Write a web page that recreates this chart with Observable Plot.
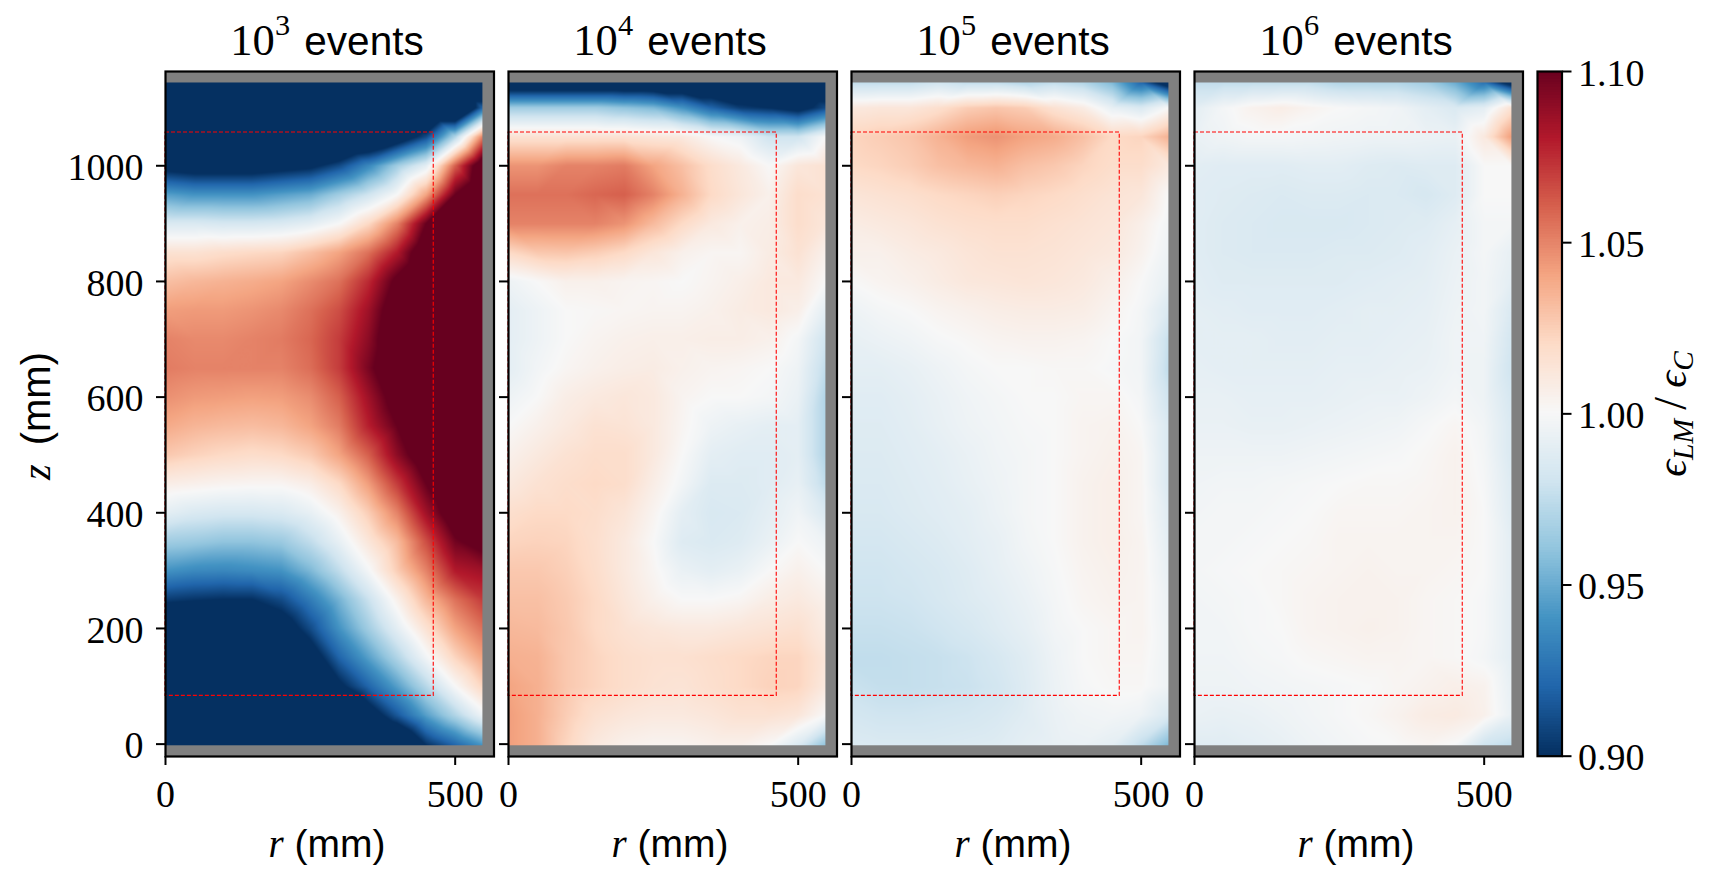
<!DOCTYPE html>
<html>
<head>
<meta charset="utf-8">
<script src="https://cdn.jsdelivr.net/npm/d3@7"></script>
<script src="https://cdn.jsdelivr.net/npm/@observablehq/plot@0.6"></script>
<style>
  body { margin: 0; background: white; }
  #chart { position: relative; width: 1716px; height: 883px; overflow: hidden; color: black; }
  #chart svg { position: absolute; overflow: visible; }
  .txt { position: absolute; white-space: nowrap; font-family: "Liberation Sans"; transform: translate(-50%, 0); line-height: 1; }
  .txt i { font-family: "Liberation Serif"; }
  .txt .num { font-family: "Liberation Serif"; font-size: 1.1em; }
  .txt sup { font-family: "Liberation Serif"; font-size: 0.75em; line-height: 0; vertical-align: 0.66em; margin-right: 0.1em; }
  .txt sub { font-size: 0.7em; line-height: 0; vertical-align: -0.25em; }
</style>
</head>
<body>
<div id="chart"></div>
<script>
// sample positions (mm)
const rValues = [0, 50, 100, 150, 200, 250, 300, 350, 400, 450, 500, 547];
const zValues = [1144, 1100, 1050, 1000, 950, 900, 850, 800, 750, 700, 650, 600, 550, 500, 450, 400, 350, 300, 250, 200, 150, 100, 50, -2];

const exponents = [3, 4, 5, 6];
const rTicks = [0, 500];
const zTicks = [0, 200, 400, 600, 800, 1000];
const barTicks = [0.90, 0.95, 1.00, 1.05, 1.10];
const rdbu = ["#053061", "#2166ac", "#4393c3", "#92c5de", "#d1e5f0", "#f7f7f7", "#fddbc7", "#f4a582", "#d6604d", "#b2182b", "#67001f"];
const rdbuStops = [0.90, 0.92, 0.94, 0.96, 0.98, 1.00, 1.02, 1.04, 1.06, 1.08, 1.10];
const fiducial = [{r1: 0, r2: 463, z1: 83.5, z2: 1057.6}];

// ratio epsilon_LM / epsilon_C, one row per z, one column per r
const events3 = [
  [.84, .84, .84, .84, .84, .84, .84, .84, .84, .84, .84, .84],
  [.84, .84, .84, .84, .84, .84, .84, .84, .84, .84, .84, .92],
  [.84, .84, .84, .84, .84, .84, .85, .86, .88, .91, .97, 1.05],
  [.89, .885, .885, .885, .89, .895, .91, .935, .965, .99, 1.06, 1.12],
  [.945, .94, .94, .94, .945, .95, .965, .98, 1.00, 1.04, 1.10, 1.13],
  [.985, .985, .983, .983, .985, .99, 1.00, 1.02, 1.05, 1.10, 1.13, 1.14],
  [1.015, 1.015, 1.018, 1.02, 1.022, 1.03, 1.04, 1.055, 1.08, 1.12, 1.14, 1.14],
  [1.03, 1.033, 1.035, 1.037, 1.04, 1.047, 1.055, 1.075, 1.105, 1.13, 1.14, 1.14],
  [1.042, 1.043, 1.043, 1.045, 1.048, 1.055, 1.065, 1.085, 1.115, 1.14, 1.14, 1.14],
  [1.05, 1.048, 1.048, 1.05, 1.052, 1.058, 1.07, 1.09, 1.12, 1.14, 1.14, 1.14],
  [1.052, 1.05, 1.05, 1.05, 1.05, 1.056, 1.07, 1.095, 1.12, 1.14, 1.14, 1.14],
  [1.046, 1.043, 1.042, 1.041, 1.042, 1.047, 1.06, 1.085, 1.11, 1.13, 1.14, 1.14],
  [1.038, 1.034, 1.032, 1.031, 1.033, 1.04, 1.052, 1.078, 1.10, 1.125, 1.14, 1.14],
  [1.027, 1.023, 1.02, 1.018, 1.02, 1.026, 1.04, 1.06, 1.09, 1.115, 1.13, 1.13],
  [1.007, 1.005, 1.003, 1.002, 1.002, 1.007, 1.02, 1.042, 1.07, 1.10, 1.125, 1.13],
  [.99, .985, .983, .983, .985, .992, 1.005, 1.025, 1.05, 1.085, 1.115, 1.125],
  [.965, .963, .96, .96, .963, .975, .992, 1.012, 1.032, 1.065, 1.097, 1.108],
  [.94, .936, .935, .937, .94, .955, .975, .998, 1.025, 1.05, 1.08, 1.085],
  [.905, .902, .90, .90, .91, .93, .953, .978, 1.005, 1.033, 1.055, 1.07],
  [.86, .86, .86, .87, .885, .91, .94, .965, .99, 1.015, 1.04, 1.055],
  [.84, .84, .84, .85, .86, .885, .92, .945, .97, .997, 1.022, 1.04],
  [.84, .84, .84, .84, .84, .86, .895, .92, .945, .972, 1.00, 1.022],
  [.84, .84, .84, .84, .84, .84, .85, .885, .915, .945, .97, .995],
  [.84, .84, .84, .84, .84, .84, .84, .84, .86, .90, .92, .94]
];
const events4 = [
  [.87, .87, .87, .87, .87, .87, .87, .87, .87, .87, .87, .87],
  [.965, .965, .965, .965, .96, .955, .94, .92, .905, .90, .89, .91],
  [1.015, 1.015, 1.015, 1.015, 1.015, 1.012, 1.01, 1.00, .995, .98, .98, 1.00],
  [1.045, 1.045, 1.05, 1.05, 1.052, 1.04, 1.03, 1.018, 1.01, 1.00, 1.012, 1.015],
  [1.055, 1.055, 1.055, 1.058, 1.06, 1.05, 1.035, 1.02, 1.012, 1.005, 1.018, 1.015],
  [1.05, 1.05, 1.05, 1.05, 1.045, 1.032, 1.02, 1.01, 1.005, 1.007, 1.018, 1.012],
  [1.02, 1.027, 1.028, 1.025, 1.02, 1.012, 1.005, 1.002, 1.002, 1.008, 1.015, 1.005],
  [.995, 1.00, 1.005, 1.005, 1.003, 1.002, 1.00, 1.003, 1.006, 1.01, 1.01, 1.00],
  [.99, .995, 1.00, 1.001, 1.002, 1.003, 1.003, 1.005, 1.008, 1.01, 1.006, .99],
  [.99, .995, 1.00, 1.003, 1.005, 1.006, 1.006, 1.007, 1.007, 1.005, .998, .98],
  [.99, .997, 1.002, 1.005, 1.007, 1.008, 1.005, 1.003, 1.002, 1.00, .995, .975],
  [.995, 1.00, 1.007, 1.01, 1.012, 1.01, 1.003, 1.00, 1.00, .998, .993, .97],
  [1.00, 1.005, 1.01, 1.015, 1.014, 1.01, 1.002, .995, .992, .99, .99, .97],
  [1.005, 1.01, 1.015, 1.018, 1.018, 1.01, 1.00, .99, .988, .988, .99, .97],
  [1.01, 1.015, 1.018, 1.02, 1.018, 1.007, .997, .986, .986, .988, .992, .975],
  [1.017, 1.02, 1.02, 1.018, 1.013, 1.003, .99, .984, .985, .99, .996, .985],
  [1.022, 1.023, 1.022, 1.017, 1.01, 1.00, .987, .985, .987, .993, 1.00, .995],
  [1.027, 1.027, 1.024, 1.018, 1.01, 1.002, .993, .99, .993, 1.00, 1.005, 1.00],
  [1.03, 1.03, 1.026, 1.02, 1.012, 1.005, 1.00, 1.00, 1.002, 1.007, 1.01, 1.005],
  [1.033, 1.032, 1.027, 1.02, 1.015, 1.012, 1.01, 1.01, 1.012, 1.014, 1.016, 1.008],
  [1.036, 1.035, 1.027, 1.022, 1.018, 1.016, 1.016, 1.018, 1.02, 1.022, 1.022, 1.012],
  [1.04, 1.036, 1.027, 1.022, 1.018, 1.015, 1.014, 1.017, 1.02, 1.023, 1.022, 1.01],
  [1.042, 1.036, 1.025, 1.016, 1.012, 1.01, 1.01, 1.012, 1.015, 1.015, 1.012, 1.00],
  [1.042, 1.036, 1.022, 1.01, 1.005, 1.003, 1.003, 1.005, 1.005, 1.00, .985, .96]
];
const events5 = [
  [.975, .975, .975, .98, .975, .975, .97, .975, .97, .955, .92, .88],
  [1.01, 1.012, 1.012, 1.017, 1.025, 1.028, 1.025, 1.015, 1.008, .992, .985, 1.00],
  [1.022, 1.025, 1.028, 1.035, 1.042, 1.045, 1.04, 1.037, 1.03, 1.02, 1.022, 1.035],
  [1.02, 1.022, 1.025, 1.03, 1.033, 1.035, 1.03, 1.027, 1.022, 1.018, 1.018, 1.01],
  [1.013, 1.015, 1.017, 1.02, 1.022, 1.024, 1.022, 1.02, 1.017, 1.014, 1.012, 1.00],
  [1.008, 1.01, 1.012, 1.015, 1.017, 1.018, 1.018, 1.016, 1.014, 1.012, 1.006, .997],
  [1.005, 1.005, 1.008, 1.01, 1.013, 1.015, 1.015, 1.014, 1.012, 1.01, 1.004, .995],
  [1.00, 1.003, 1.005, 1.008, 1.011, 1.012, 1.013, 1.012, 1.01, 1.006, 1.00, .992],
  [.995, .998, 1.00, 1.003, 1.005, 1.007, 1.008, 1.008, 1.007, 1.003, .998, .985],
  [.992, .994, .996, .999, 1.001, 1.003, 1.004, 1.004, 1.003, 1.00, .997, .977],
  [.99, .99, .992, .995, .998, 1.00, 1.00, 1.001, 1.001, .999, .997, .975],
  [.988, .988, .99, .993, .996, .998, 1.00, 1.00, 1.002, 1.002, .998, .98],
  [.987, .987, .989, .992, .995, .997, .999, 1.00, 1.003, 1.004, 1.00, .985],
  [.986, .986, .988, .99, .993, .996, .998, 1.00, 1.003, 1.005, 1.002, .985],
  [.985, .985, .987, .989, .992, .995, .998, 1.00, 1.004, 1.006, 1.002, .985],
  [.984, .984, .986, .988, .99, .994, .998, 1.00, 1.004, 1.006, 1.002, .988],
  [.982, .982, .984, .986, .989, .992, .997, 1.00, 1.004, 1.006, 1.003, .99],
  [.98, .98, .982, .984, .987, .991, .995, .999, 1.003, 1.005, 1.003, .992],
  [.979, .979, .98, .983, .986, .989, .993, .998, 1.002, 1.004, 1.003, .994],
  [.977, .977, .978, .98, .983, .987, .991, .997, 1.00, 1.002, 1.003, .995],
  [.975, .975, .976, .977, .979, .983, .988, .995, 1.00, 1.002, 1.002, .995],
  [.978, .976, .976, .977, .978, .981, .987, .994, .999, 1.001, 1.001, .995],
  [.982, .98, .98, .981, .982, .984, .988, .993, .996, .997, .995, .985],
  [.986, .985, .985, .985, .986, .987, .99, .992, .993, .99, .975, .955]
];
const events6 = [
  [.975, .975, .975, .975, .975, .97, .97, .97, .965, .95, .925, .885],
  [.99, .998, 1.004, 1.007, 1.003, 1.00, .998, .996, .99, .985, .99, 1.015],
  [.993, .996, .998, .998, .997, .996, .995, .995, .994, .993, 1.01, 1.042],
  [.989, .988, .988, .988, .989, .989, .987, .986, .987, .987, 1.00, 1.00],
  [.988, .987, .986, .985, .986, .986, .985, .985, .983, .987, 1.00, 1.00],
  [.988, .986, .985, .984, .984, .984, .985, .986, .987, .991, .998, .998],
  [.988, .986, .985, .985, .985, .986, .986, .987, .989, .993, .998, .992],
  [.989, .987, .987, .987, .987, .987, .988, .989, .99, .994, .997, .99],
  [.99, .989, .988, .988, .988, .989, .99, .99, .991, .995, .997, .985],
  [.99, .99, .99, .989, .989, .99, .99, .991, .992, .996, .996, .982],
  [.991, .99, .99, .99, .99, .991, .991, .992, .993, .996, .995, .98],
  [.992, .992, .991, .991, .991, .992, .993, .993, .995, .998, .995, .983],
  [.993, .993, .992, .992, .993, .994, .995, .996, .999, 1.002, .997, .985],
  [.995, .995, .995, .995, .996, .997, .998, .999, 1.001, 1.004, .998, .985],
  [.996, .997, .997, .998, .999, 1.00, 1.001, 1.001, 1.002, 1.004, .999, .987],
  [.997, .998, .998, .999, 1.00, 1.002, 1.002, 1.002, 1.003, 1.004, 1.00, .988],
  [.998, .998, .999, 1.00, 1.001, 1.003, 1.003, 1.003, 1.003, 1.003, 1.00, .99],
  [.998, .999, 1.00, 1.001, 1.002, 1.003, 1.004, 1.003, 1.003, 1.002, 1.00, .99],
  [.997, .998, .999, 1.001, 1.003, 1.004, 1.004, 1.004, 1.002, 1.001, .999, .99],
  [.997, .997, .999, 1.00, 1.003, 1.004, 1.005, 1.004, 1.002, 1.001, .999, .99],
  [.996, .996, .998, .999, 1.001, 1.002, 1.003, 1.003, 1.002, 1.001, .998, .99],
  [.995, .995, .996, .997, .998, .999, 1.00, 1.002, 1.004, 1.006, 1.004, .992],
  [.993, .992, .993, .995, .997, .999, 1.001, 1.004, 1.008, 1.009, 1.005, .993],
  [.988, .988, .99, .992, .995, .997, .999, 1.00, 1.002, .999, .98, .975]
];
const panels = [events3, events4, events5, events6];

const chart = document.getElementById("chart");
const colorScale = {type: "linear", domain: rdbuStops, range: rdbu, clamp: true};

// grid rows -> tidy table for the raster
function tidy(rows) {
  const out = [];
  rows.forEach((row, j) => row.forEach((v, i) => out.push({r: rValues[i], z: zValues[j], v})));
  return out;
}

function addText(html, left, top, size, rotate) {
  const el = document.createElement("div");
  el.className = "txt";
  el.innerHTML = html;
  el.style.left = left + "px";
  el.style.top = top + "px";
  el.style.fontSize = size + "px";
  if (rotate) el.style.transform = "translate(-50%, -50%) rotate(-90deg)";
  chart.appendChild(el);
}

const panelLefts = [165, 508, 851, 1194];
const panelWidth = 328.5, panelHeight = 685, panelTop = 71;
const axisStyle = {fontFamily: "Liberation Serif", fontSize: "38px", background: "transparent", color: "black"};

panels.forEach((rows, i) => {
  const marginLeft = i === 0 ? 120 : 12;
  const plot = Plot.plot({
    width: marginLeft + panelWidth + 2,
    height: panelHeight + 70,
    marginLeft,
    marginRight: 2,
    marginTop: 0,
    marginBottom: 70,
    style: axisStyle,
    x: {domain: [0, 567]},
    y: {domain: [-21.4, 1163]},
    color: colorScale,
    marks: [
      Plot.frame({fill: "#808080"}),
      Plot.raster(tidy(rows), {x: "r", y: "z", fill: "v", x1: 0, x2: 547, y1: -2, y2: 1144, interpolate: "barycentric"}),
      Plot.rect(fiducial, {x1: "r1", x2: "r2", y1: "z1", y2: "z2", stroke: "red", strokeWidth: 1.1, strokeDasharray: "4,2", fill: "none"}),
      Plot.frame({stroke: "black", strokeWidth: 2.2}),
      Plot.axisX({ticks: rTicks, tickSize: 9, strokeWidth: 2, tickPadding: 15, tickFormat: d => d, label: null}),
      Plot.axisY({ticks: zTicks, tickSize: 9, strokeWidth: 2, tickFormat: () => "", label: null}),
      // labels go separately so they can sit 2px lower than the ticks
      Plot.axisY({ticks: zTicks, tickSize: 0, tickPadding: 22, dy: 2, tickFormat: i === 0 ? d3.format("d") : () => "", label: null})
    ]
  });
  plot.style.left = (panelLefts[i] - marginLeft) + "px";
  plot.style.top = panelTop + "px";
  chart.appendChild(plot);

  const mid = panelLefts[i] + 162;
  addText(`<span class="num">10</span><sup>${exponents[i]}</sup>&nbsp;events`, mid, 18, 40.5);
  addText(`<i>r</i>&nbsp;(mm)`, mid, 824, 39);
});

// colorbar
const levels = d3.range(256).map(k => 0.9 + k * 0.2 / 256);
const bar = Plot.plot({
  width: 24.5 + 2 + 80,
  height: 684.7,
  marginLeft: 2,
  marginRight: 80,
  marginTop: 0,
  marginBottom: 0,
  style: axisStyle,
  x: {domain: [0, 1], axis: null},
  y: {domain: [0.9, 1.1]},
  color: colorScale,
  marks: [
    Plot.rect(levels, {x1: 0, x2: 1, y1: d => d, y2: d => d + 0.2 / 256, fill: d => d, shapeRendering: "crispEdges"}),
    Plot.frame({stroke: "black", strokeWidth: 2.2}),
    Plot.axisY({anchor: "right", ticks: barTicks, tickSize: 9, strokeWidth: 2, tickFormat: () => "", label: null}),
    Plot.axisY({anchor: "right", ticks: barTicks, tickSize: 0, tickPadding: 16, dy: 2, tickFormat: d3.format(".2f"), label: null})
  ]
});
bar.style.left = (1537 - 2) + "px";
bar.style.top = panelTop + "px";
chart.appendChild(bar);

addText(`<i>z</i>&nbsp;&thinsp;(mm)`, 36, 416, 40, true);
addText(`<i>ϵ<sub>LM</sub></i><span class="num">&thinsp;/&thinsp;</span><i>ϵ<sub>C</sub></i>`, 1671, 414, 42, true);
</script>
</body>
</html>
